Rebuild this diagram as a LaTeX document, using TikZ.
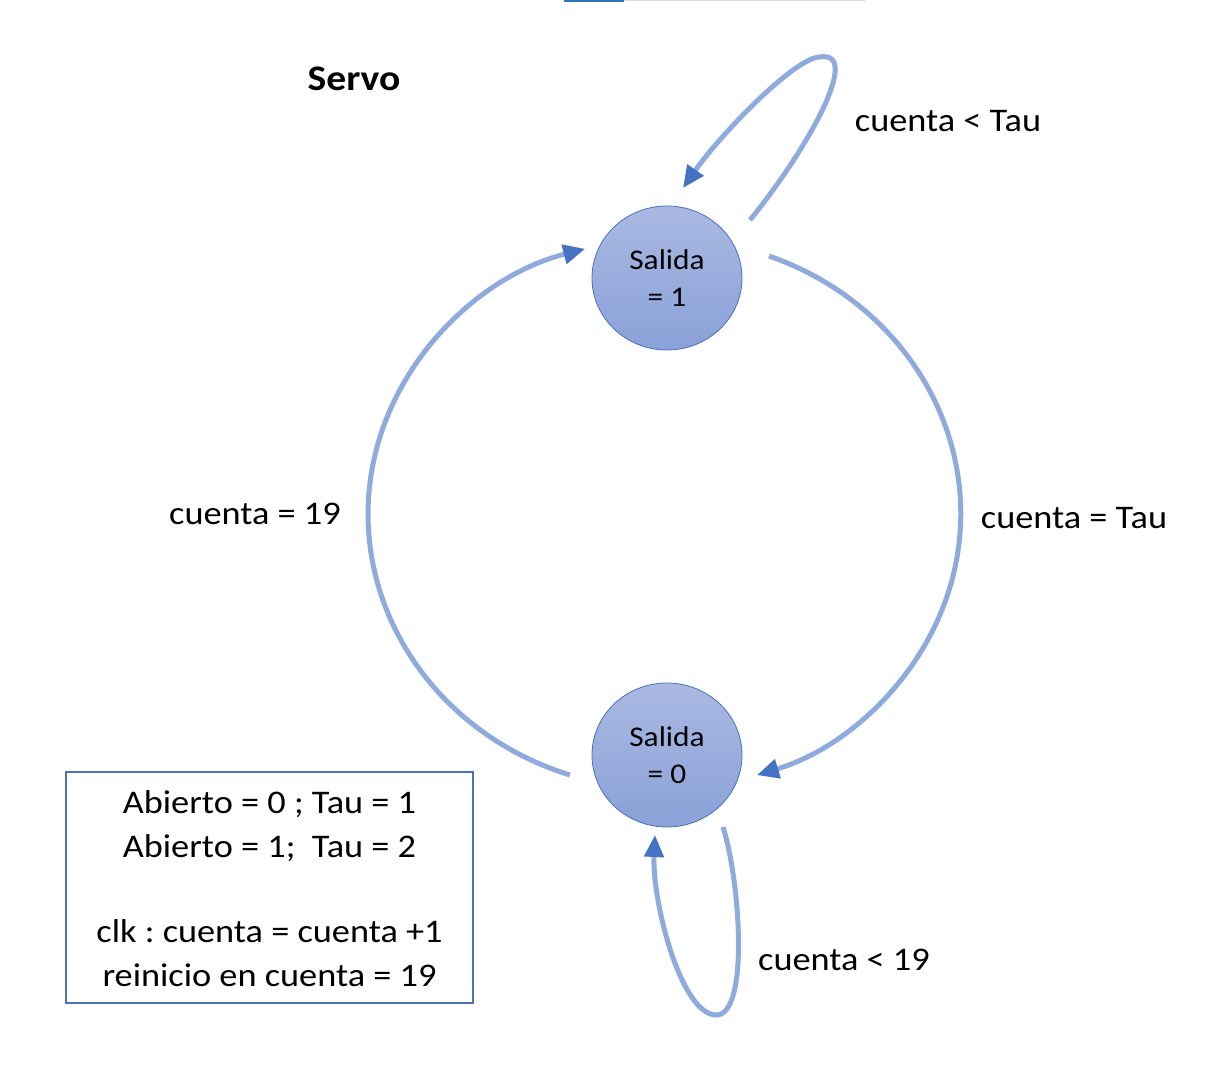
\documentclass[tikz,border=0pt]{standalone}
\usepackage{fontspec}
\setmainfont{Carlito}
\newfontfamily\lblfont[FakeStretch=1.1]{Carlito}
\usetikzlibrary{shapes.geometric,arrows.meta}
\frenchspacing
\definecolor{linec}{HTML}{8FAADC}
\definecolor{tipc}{HTML}{4472C4}
\definecolor{topfill}{HTML}{AAB9E2}
\definecolor{botfill}{HTML}{8AA1D8}
\definecolor{boxc}{HTML}{4E72B6}
\tikzset{
  state/.style={ellipse, draw=tipc, line width=0.8pt, top color=topfill, bottom color=botfill,
    minimum width=150pt, minimum height=144pt, inner sep=0pt, align=center,
    font=\lblfont\fontsize{28.5}{37}\selectfont},
  conn/.style={draw=linec, line width=5pt,
    -{Triangle[length=22pt,width=19pt,fill=tipc,color=tipc]}},
  lbl/.style={anchor=base, inner sep=0pt, font=\lblfont\fontsize{33}{40}\selectfont},
  notebox/.style={draw=boxc, line width=1.5pt, minimum width=407pt, minimum height=231pt, inner sep=0pt}
}
\begin{document}
\begin{tikzpicture}[x=1pt,y=-1pt]
\useasboundingbox (0,0) rectangle (1218,1071);
% top strip
\draw[line width=2pt, color={rgb,255:red,46;green,117;blue,182}] (564,0.5) -- (624,0.5);
\draw[line width=1.5pt, color={rgb,255:red,217;green,217;blue,217}] (624,0.5) -- (865,0.5);

\node[anchor=base, inner sep=0pt, font=\lblfont\bfseries\fontsize{36}{40}\selectfont] (title) at (354,90) {Servo};

\node[state] (s1) at (667,278) {Salida\\= 1};
\node[state] (s0) at (667,755) {Salida\\= 0};

% named end coordinates
\coordinate (a1) at (750,220);
\coordinate (a2) at (683,188);
\coordinate (b1) at (769,256);
\coordinate (b2) at (755,778);
\coordinate (c1) at (570,775);
\coordinate (c2) at (585,253);
\coordinate (d1) at (723,827);
\coordinate (d2) at (655,835);

% self loop on Salida = 1
\draw[conn] (a1) .. controls (810,146) and (862,50) .. (820,57)
               .. controls (795,57) and (720,135) .. (a2);
% Salida = 1 -> Salida = 0
\draw[conn] (b1) arc[start angle=69.5, end angle=-72, x radius=295, y radius=-275];
% Salida = 0 -> Salida = 1
\draw[conn] (c1) arc[start angle=-108.4, end angle=-254.7, x radius=295, y radius=-275];
% self loop on Salida = 0
\draw[conn] (d1) .. controls (740,880) and (750,1018) .. (715,1015)
               .. controls (680,1012) and (652,900) .. (d2);

\node[lbl] (l1) at (948,131) {cuenta < Tau};
\node[lbl] (l2) at (1074,528) {cuenta = Tau};
\node[lbl] (l3) at (255,524) {cuenta = 19};
\node[lbl] (l4) at (844,970) {cuenta < 19};

\node[notebox] (box) at (269.5,887.5) {};
\node[lbl] (t1) at (269.5,813) {Abierto = 0 ; Tau = 1};
\node[lbl] (t2) at (269.5,857) {Abierto = 1;\ \ Tau = 2};
\node[lbl] (t3) at (269.5,942) {clk : cuenta = cuenta +1};
\node[lbl] (t4) at (269.5,986) {reinicio en cuenta = 19};
\end{tikzpicture}
\end{document}
